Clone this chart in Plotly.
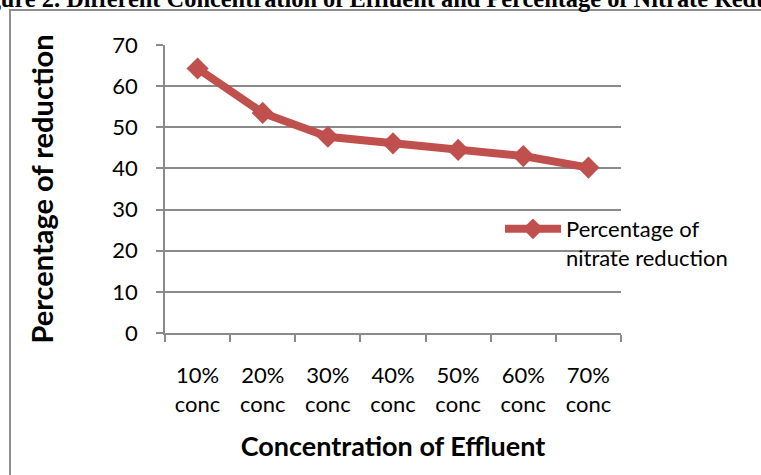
import plotly.graph_objects as go

categories = ["10%<br>conc", "20%<br>conc", "30%<br>conc", "40%<br>conc",
              "50%<br>conc", "60%<br>conc", "70%<br>conc"]
reduction = [64.3, 53.5, 47.7, 46.1, 44.5, 43.0, 40.2]
series_name = "Percentage of<br>nitrate reduction"
title_text = "Figure 2. Different Concentration of Effluent and Percentage of Nitrate Reduction"
x_title = "Concentration of Effluent"
y_title = "Percentage of reduction"

W, H = 761, 475
L, R, T, B = 165, 621, 45, 333  # plot area pixel bounds


def px(xp):
    return (xp - L) / (R - L)


def py(yp):
    return (B - yp) / (B - T)


RED = "#C0504D"
GRID = "#8a8a8a"
FONT = "Lato"

fig = go.Figure()
fig.add_trace(go.Scatter(
    x=categories, y=reduction, mode="lines+markers", name=series_name,
    line=dict(color=RED, width=8),
    marker=dict(symbol="diamond", size=17, color=RED),
))

fig.update_layout(
    width=W, height=H,
    margin=dict(l=L, r=W - R, t=T, b=H - B, pad=0),
    paper_bgcolor="white", plot_bgcolor="white",
    font=dict(family=FONT, size=22, color="black"),
    showlegend=True,
    legend=dict(x=px(500), y=py(208), xanchor="left", yanchor="top",
                itemwidth=56, valign="top", bgcolor="rgba(0,0,0,0)",
                font=dict(family=FONT, size=22, color="black")),
    xaxis=dict(
        type="category", range=[-0.5, 6.5], tickson="boundaries",
        ticks="outside", ticklen=7, tickwidth=1.5, tickcolor=GRID,
        showline=True, linecolor=GRID, linewidth=1.5, showgrid=False,
        ticklabelstandoff=22, tickfont=dict(family=FONT, size=22),
        title=dict(text="<b>" + x_title + "</b>", standoff=21,
                   font=dict(family=FONT, size=27)),
    ),
    yaxis=dict(
        range=[0, 70], dtick=10, tick0=0,
        ticks="outside", ticklen=7, tickwidth=1.5, tickcolor=GRID,
        showline=True, linecolor=GRID, linewidth=1.5,
        showgrid=True, gridcolor=GRID, gridwidth=1.5, zeroline=False,
        ticklabelstandoff=14, tickfont=dict(family=FONT, size=22),
        title=dict(text="<b>" + y_title + "</b>", standoff=50,
                   font=dict(family=FONT, size=29)),
    ),
    shapes=[dict(type="rect", xref="paper", yref="paper",
                 x0=px(10), y0=py(H + 50), x1=px(W + 50), y1=py(10),
                 line=dict(color="#909090", width=2), layer="below")],
    annotations=[dict(text="<b>" + title_text + "</b>", xref="paper", yref="paper",
                      x=px(-35), y=py(-2), xanchor="left", yanchor="middle",
                      showarrow=False,
                      font=dict(family="Liberation Serif", size=24.4, color="black"))],
)

fig.write_html("out.html", config={"displayModeBar": False},
               post_script="document.body.style.margin='0px';")
